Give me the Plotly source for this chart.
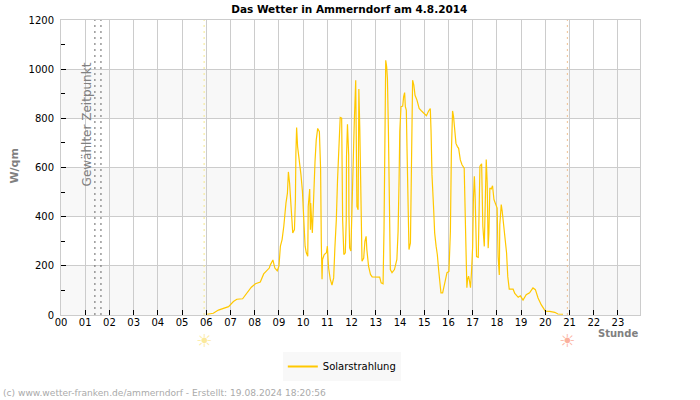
import plotly.graph_objects as go

hours = [6.04,6.29,6.5,6.7,6.92,7.12,7.26,7.5,7.67,7.86,8.03,8.23,8.37,8.6,8.65,8.75,8.83,8.93,
 9.0,9.06,9.13,9.2,9.29,9.35,9.39,9.44,9.5,9.57,9.64,9.68,9.7,9.73,9.77,9.84,9.91,9.97,
 10.02,10.08,10.13,10.19,10.21,10.27,10.3,10.31,10.38,10.43,10.49,10.54,10.6,10.67,10.72,10.75,10.78,10.8,10.87,10.96,
 11.0,11.05,11.12,11.19,11.26,11.31,11.37,11.42,11.48,11.53,11.59,11.63,11.68,11.74,11.78,11.79,11.83,11.88,11.89,11.92,11.97,
 12.0,12.11,12.17,12.22,12.27,12.3,12.34,12.39,12.43,12.5,12.55,12.6,12.63,12.7,12.78,12.85,
 13.16,13.22,13.3,13.34,13.38,13.41,13.45,13.48,13.52,13.56,13.6,13.67,13.77,13.87,13.92,13.96,13.99,
 14.04,14.11,14.15,14.19,14.22,14.26,14.29,14.35,14.37,14.43,14.46,14.5,14.52,14.57,14.62,14.7,14.79,14.88,14.98,
 15.09,15.18,15.25,15.28,15.32,15.39,15.43,15.49,15.54,15.6,15.65,15.69,15.76,15.83,15.94,
 16.02,16.08,16.12,16.17,16.21,16.25,16.31,16.37,16.42,16.49,16.56,16.65,16.68,16.74,16.76,16.79,16.83,16.87,16.91,16.95,
 17.0,17.03,17.07,17.1,17.14,17.16,17.23,17.26,17.3,17.37,17.4,17.42,17.48,17.52,17.56,17.6,17.64,17.67,17.71,17.77,17.82,17.88,17.96,
 18.01,18.05,18.1,18.12,18.18,18.22,18.26,18.33,18.4,18.45,18.51,18.67,18.74,18.88,18.97,
 19.08,19.21,19.35,19.49,19.59,19.7,19.83,19.94,20.0,20.18,20.39,20.52,20.73]
solar = [3,7,20,27,34,55,64,66,86,113,127,134,167,191,205,224,191,180,
 199,280,307,361,455,496,582,536,442,334,347,469,658,763,685,638,570,503,
 401,280,253,239,442,512,347,455,334,496,624,712,759,746,597,293,145,226,246,253,
 280,192,145,122,151,273,388,550,719,804,801,388,246,253,388,644,776,651,408,273,260,
 401,780,955,442,428,919,752,330,219,232,300,320,266,199,165,155,
 154,131,127,354,806,1036,1009,962,752,381,185,172,185,226,340,543,746,
 847,850,888,905,847,834,671,401,266,293,462,793,955,935,894,874,840,831,820,
 811,830,840,752,570,428,334,280,246,178,104,90,90,124,172,
 177,340,658,830,807,773,698,685,678,631,611,597,476,232,111,145,158,138,111,172,
 279,469,564,490,320,238,235,469,605,615,500,360,279,537,632,537,272,333,517,513,526,469,449,
 435,238,163,367,449,422,381,320,252,156,105,105,88,72,78,
 61,83,90,110,103,69,42,22,16,15,11,4,3]

x_ticks = list(range(24))
x_labels = [f"{h:02d}" for h in x_ticks]
y_major = [0,200,400,600,800,1000,1200]
y_minor = [100,300,500,700,900,1100]
bands = [(0,200),(400,600),(800,1000)]
selected_time = [1.4,1.65]
sunrise = 5.91
sunset = 20.91

fig = go.Figure()
fig.add_trace(go.Scatter(x=hours, y=solar, mode="lines", line=dict(color="#ffc800", width=1.2),
                         showlegend=False, hoverinfo="skip"))
fig.add_trace(go.Scatter(x=[None], y=[None], mode="lines", line=dict(color="#ffc800", width=2),
                         name="Solarstrahlung"))

for lo, hi in bands:
    fig.add_shape(type="rect", xref="paper", x0=0, x1=1, yref="y", y0=lo, y1=hi,
                  fillcolor="#f8f8f8", line_width=0, layer="below")
for t in selected_time:
    fig.add_shape(type="line", x0=t, x1=t, yref="paper", y0=0, y1=1,
                  line=dict(color="#666666", width=1, dash="2px,4px"))
fig.add_shape(type="line", x0=sunrise, x1=sunrise, yref="paper", y0=0, y1=1,
              line=dict(color="#f4e88c", width=1, dash="2px,4px"))
fig.add_shape(type="line", x0=sunset, x1=sunset, yref="paper", y0=0, y1=1,
              line=dict(color="#f0c090", width=1, dash="2px,4px"))

F = "DejaVu Sans"
fig.add_annotation(x=1.09, y=777, text="Gewählter Zeitpunkt", textangle=-90, showarrow=False,
                   font=dict(family=F, size=12, color="#808080"))
fig.add_annotation(xref="paper", yref="paper", x=1.0, y=-0.064, xanchor="right", yanchor="middle",
                   text="<b>Stunde</b>", showarrow=False, font=dict(family=F, size=10, color="#808080"))
fig.add_annotation(x=sunrise, yref="paper", y=-0.088, yanchor="middle", text="☀", showarrow=False,
                   font=dict(family=F, size=18, color="#fbe99a"))
fig.add_annotation(x=sunset, yref="paper", y=-0.088, yanchor="middle", text="☀", showarrow=False,
                   font=dict(family=F, size=18, color="#fbb09c"))
fig.add_annotation(xref="paper", yref="paper", x=-0.081, xanchor="center", y=0.507, yanchor="middle",
                   text="<b>W/qm</b>", textangle=-90, showarrow=False,
                   font=dict(family=F, size=11, color="#808080"))
fig.add_annotation(xref="paper", yref="paper", xanchor="left", yanchor="middle", x=-0.103, y=-0.264,
                   text="(c) www.wetter-franken.de/ammerndorf - Erstellt: 19.08.2024 18:20:56",
                   showarrow=False, font=dict(family=F, size=9.1, color="#aaaaaa"))

fig.update_layout(
    width=700, height=400, autosize=False,
    margin=dict(l=61, r=60, t=20, b=85),
    paper_bgcolor="white", plot_bgcolor="white",
    font=dict(family=F, size=10, color="black"),
    title=dict(text="<b>Das Wetter in Ammerndorf am 4.8.2014</b>", x=0.499, xanchor="center",
               y=0.977, yanchor="middle", font=dict(family=F, size=10.5, color="black")),
    legend=dict(orientation="h", x=0.485, xanchor="center", y=-0.125, yanchor="top",
                bgcolor="#f8f8f8", font=dict(family=F, size=10, color="black")),
    xaxis=dict(range=[0,23.91], tickmode="array", tickvals=x_ticks, ticktext=x_labels,
               ticks="inside", ticklen=5, tickcolor="black", tickwidth=1, ticklabelstandoff=-2,
               showgrid=True, gridcolor="#cccccc", gridwidth=1,
               showline=True, linecolor="#cccccc", linewidth=1, mirror=True, zeroline=False,
               tickangle=0),
    yaxis=dict(range=[0,1200], tickmode="array", tickvals=y_major,
               ticks="inside", ticklen=5, tickcolor="black", tickwidth=1,
               ticklabelstandoff=4,
               minor=dict(tickmode="array", tickvals=y_minor, ticks="inside", ticklen=4, tickcolor="black", showgrid=False),
               showgrid=True, gridcolor="#cccccc", gridwidth=1,
               showline=True, linecolor="#cccccc", linewidth=1, mirror=True, zeroline=False),
)
fig.write_html("out.html", post_script="document.body.style.margin='0';", config={"displayModeBar": False})
